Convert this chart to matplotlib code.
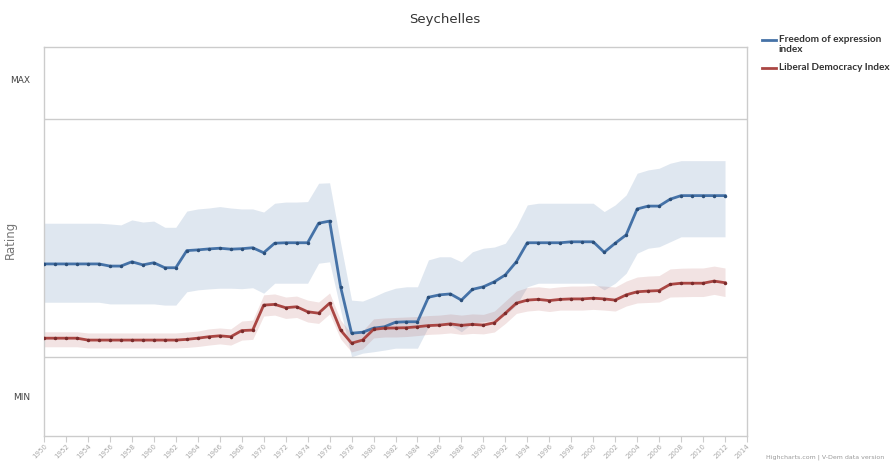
import matplotlib
matplotlib.use("Agg")
import matplotlib.pyplot as plt
from matplotlib.lines import Line2D
import numpy as np

plt.rcParams['font.family'] = ['DejaVu Sans']

years = list(range(1950, 2013))

foe = [0.391, 0.391, 0.391, 0.391, 0.391, 0.391, 0.382, 0.382, 0.400, 0.387,
       0.396, 0.375, 0.375, 0.447, 0.450, 0.454, 0.457, 0.453, 0.455, 0.459,
       0.438, 0.478, 0.480, 0.480, 0.480, 0.562, 0.571, 0.295, 0.100, 0.104,
       0.121, 0.127, 0.146, 0.148, 0.148, 0.251, 0.261, 0.265, 0.239, 0.284,
       0.295, 0.316, 0.345, 0.400, 0.480, 0.480, 0.480, 0.480, 0.484, 0.484,
       0.484, 0.440, 0.478, 0.513, 0.622, 0.634, 0.634, 0.663, 0.678, 0.678,
       0.678, 0.678, 0.678]
foe_hi = [0.562, 0.562, 0.562, 0.562, 0.562, 0.562, 0.559, 0.555, 0.576, 0.567,
          0.571, 0.545, 0.545, 0.613, 0.622, 0.626, 0.632, 0.626, 0.622, 0.622,
          0.609, 0.646, 0.651, 0.651, 0.653, 0.730, 0.732, 0.479, 0.239, 0.235,
          0.253, 0.274, 0.289, 0.295, 0.295, 0.408, 0.421, 0.421, 0.400, 0.442,
          0.457, 0.462, 0.478, 0.547, 0.639, 0.646, 0.646, 0.646, 0.646, 0.646,
          0.646, 0.611, 0.639, 0.681, 0.772, 0.786, 0.793, 0.814, 0.825, 0.825,
          0.825, 0.825, 0.825]
foe_lo = [0.230, 0.230, 0.230, 0.230, 0.230, 0.230, 0.223, 0.223, 0.223, 0.223,
          0.223, 0.218, 0.218, 0.274, 0.282, 0.286, 0.289, 0.289, 0.287, 0.291,
          0.268, 0.310, 0.310, 0.310, 0.310, 0.394, 0.400, 0.197, 0.001, 0.016,
          0.022, 0.029, 0.037, 0.037, 0.037, 0.127, 0.134, 0.134, 0.106, 0.143,
          0.148, 0.155, 0.176, 0.218, 0.295, 0.310, 0.310, 0.310, 0.310, 0.310,
          0.310, 0.282, 0.310, 0.352, 0.436, 0.457, 0.463, 0.484, 0.505, 0.505,
          0.505, 0.505, 0.505]

ldi = [0.079, 0.079, 0.079, 0.079, 0.071, 0.071, 0.071, 0.071, 0.071, 0.071,
       0.071, 0.071, 0.071, 0.074, 0.079, 0.085, 0.089, 0.085, 0.111, 0.113,
       0.218, 0.221, 0.207, 0.211, 0.190, 0.184, 0.226, 0.113, 0.058, 0.071,
       0.116, 0.121, 0.122, 0.123, 0.127, 0.132, 0.134, 0.139, 0.133, 0.137,
       0.134, 0.144, 0.184, 0.226, 0.239, 0.242, 0.237, 0.242, 0.244, 0.244,
       0.247, 0.244, 0.239, 0.261, 0.274, 0.277, 0.279, 0.305, 0.310, 0.310,
       0.310, 0.319, 0.312]
ldi_hi = [0.106, 0.106, 0.106, 0.106, 0.101, 0.101, 0.101, 0.101, 0.101, 0.101,
          0.101, 0.101, 0.101, 0.105, 0.109, 0.118, 0.122, 0.118, 0.151, 0.155,
          0.261, 0.265, 0.252, 0.256, 0.239, 0.231, 0.269, 0.155, 0.097, 0.109,
          0.160, 0.164, 0.166, 0.168, 0.170, 0.174, 0.176, 0.181, 0.176, 0.181,
          0.179, 0.193, 0.235, 0.277, 0.292, 0.295, 0.290, 0.295, 0.298, 0.298,
          0.300, 0.298, 0.294, 0.319, 0.336, 0.340, 0.342, 0.370, 0.373, 0.374,
          0.374, 0.382, 0.374]
ldi_lo = [0.043, 0.043, 0.043, 0.043, 0.038, 0.038, 0.038, 0.038, 0.038, 0.038,
          0.038, 0.038, 0.038, 0.040, 0.044, 0.050, 0.055, 0.050, 0.071, 0.074,
          0.172, 0.176, 0.162, 0.166, 0.147, 0.141, 0.181, 0.076, 0.021, 0.034,
          0.080, 0.084, 0.084, 0.086, 0.090, 0.095, 0.097, 0.101, 0.095, 0.099,
          0.097, 0.105, 0.141, 0.183, 0.193, 0.197, 0.191, 0.197, 0.197, 0.197,
          0.200, 0.197, 0.193, 0.214, 0.227, 0.229, 0.231, 0.252, 0.253, 0.254,
          0.254, 0.263, 0.254]

x_ticks = list(range(1950, 2015, 2))
y_tick_pos = [1.164, -0.168]
y_tick_labels = ["MAX", "MIN"]
series_names = ["Freedom of expression\nindex", "Liberal Democracy Index"]

BLUE = "#4572A7"
RED = "#AA4643"
GRID = "#cccccc"

fig = plt.figure(figsize=(8.93, 4.63), dpi=100)
ax = fig.add_axes([44/893, 27/463, 703/893, 389/463])

ax.fill_between(years, foe_lo, foe_hi, color=BLUE, alpha=0.17, linewidth=0)
ax.fill_between(years, ldi_lo, ldi_hi, color=RED, alpha=0.15, linewidth=0)
ax.plot(years, foe, color=BLUE, lw=2, marker='o', ms=1.5, mfc="#2b4f7a", mec="#2b4f7a", zorder=3)
ax.plot(years, ldi, color=RED, lw=2, marker='o', ms=1.5, mfc="#7a2b2b", mec="#7a2b2b", zorder=3)

ax.axhline(0, color=GRID, lw=1, zorder=1)
ax.axhline(1, color=GRID, lw=1, zorder=1)

ax.set_xlim(1950, 2014)
ax.set_ylim(-0.332, 1.3025)
ax.set_xticks(x_ticks)
ax.set_xticklabels([str(t) for t in x_ticks], rotation=45, ha='right',
                   rotation_mode='anchor', fontsize=5.0, color="#aaaaaa")
ax.tick_params(axis='x', length=4, color=GRID, pad=1.0)
ax.set_yticks(y_tick_pos)
ax.set_yticklabels(y_tick_labels, fontsize=6.5, color="#444444")
ax.tick_params(axis='y', length=0, pad=10)
for s in ax.spines.values():
    s.set_color(GRID)
    s.set_linewidth(1)

fig.text(10/893, 1 - 240/463, "Rating", rotation=90, ha='center', va='center',
         fontsize=8.5, color="#777777")
fig.text(445/893, 1 - 20/463, "Seychelles", ha='center', va='center',
         fontsize=9.5, color="#333333")

# legend
leg_y = [40, 68]
for name, col, yy in zip(series_names, [BLUE, RED], leg_y):
    fig.add_artist(Line2D([762/893, 776/893], [1 - yy/463, 1 - yy/463],
                          transform=fig.transFigure, color=col, lw=2))
    fig.text(779/893, 1 - (yy - 5.5)/463, name, ha='left', va='top',
             fontsize=7.2, fontweight='bold', color="#333333", linespacing=1.25,
             family=['Lato', 'DejaVu Sans'])

fig.text(766/893, 1 - 457/463, "Highcharts.com | V-Dem data version",
         ha='left', va='center', fontsize=4.5, color="#999999")

fig.savefig("out.png", dpi=100)
